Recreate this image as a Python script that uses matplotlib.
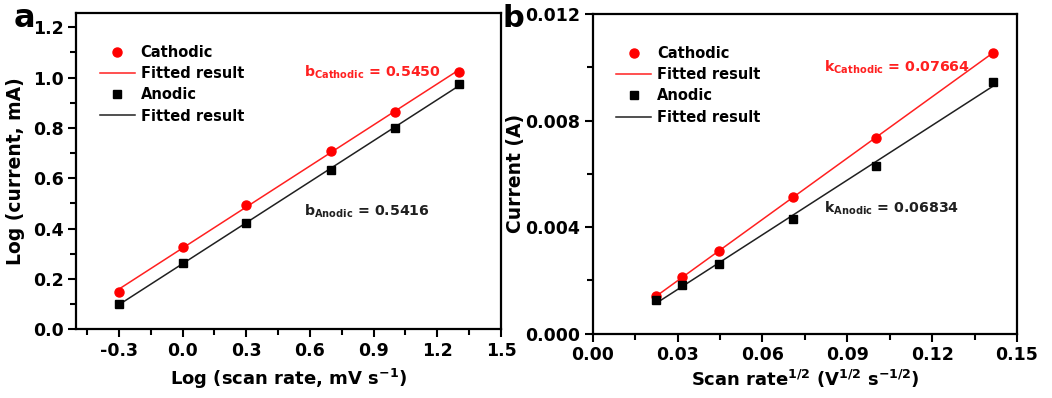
import numpy as np
import matplotlib
matplotlib.use('Agg')
import matplotlib.pyplot as plt
from matplotlib.ticker import MultipleLocator

# scan rates (mV/s) and peak currents
log_rate = [-0.301, 0.0, 0.301, 0.699, 1.0, 1.301]
log_cath = [0.148, 0.325, 0.495, 0.710, 0.865, 1.022]
log_anod = [0.100, 0.263, 0.420, 0.632, 0.800, 0.975]

sqrt_rate = [0.02236, 0.03162, 0.04472, 0.07071, 0.1, 0.14142]
i_cath = [0.00140, 0.00211, 0.00312, 0.00513, 0.00735, 0.01053]
i_anod = [0.00126, 0.00183, 0.00263, 0.00429, 0.00631, 0.00944]

b_labels = ['0.5450', '0.5416']
k_labels = ['0.07664', '0.06834']

plt.rcParams['font.family'] = ['DejaVu Sans']
plt.rcParams['font.weight'] = 'bold'
plt.rcParams['mathtext.fontset'] = 'custom'
plt.rcParams['mathtext.rm'] = 'DejaVu Sans:bold'
plt.rcParams['mathtext.bf'] = 'DejaVu Sans:bold'
plt.rcParams['mathtext.it'] = 'DejaVu Sans:bold'


def style_axes(ax):
    for s in ax.spines.values():
        s.set_linewidth(1.6)
    ax.tick_params(which='major', direction='out', length=6, width=1.5,
                   labelsize=12.5, pad=3)
    ax.tick_params(which='minor', direction='out', length=4, width=1.5)
    for lab in ax.get_xticklabels() + ax.get_yticklabels():
        lab.set_fontweight('bold')


def draw_panel(ax, x, yc, ya):
    pc = np.polyfit(x, yc, 1)
    pa = np.polyfit(x, ya, 1)
    xf = np.array([x[0], x[-1]])
    ax.plot(x, yc, 'o', color='#ff0000', ms=6.5, label='Cathodic', zorder=3)
    ax.plot(xf, np.polyval(pc, xf), '-', color='#ff2020', lw=1.1,
            label='Fitted result')
    ax.plot(x, ya, 's', color='black', ms=6, label='Anodic', zorder=3)
    ax.plot(xf, np.polyval(pa, xf), '-', color='#202020', lw=1.1,
            label='Fitted result')
    leg = ax.legend(loc='upper left', frameon=False, fontsize=10.5,
                    bbox_to_anchor=(0.024, 0.94), handlelength=2.4,
                    handletextpad=0.4, labelspacing=0.42)
    for t in leg.get_texts():
        t.set_fontweight('bold')


fig = plt.figure(figsize=(10.52, 3.98), dpi=100)
ax1 = fig.add_axes([0.0727, 0.173, 0.4035, 0.794])
ax2 = fig.add_axes([0.5635, 0.1615, 0.4032, 0.8035])

# panel a
draw_panel(ax1, log_rate, log_cath, log_anod)
ax1.set_xlim(-0.5, 1.5)
ax1.set_ylim(0, 1.256)
ax1.xaxis.set_minor_locator(MultipleLocator(0.15))
ax1.yaxis.set_major_locator(MultipleLocator(0.2))
ax1.yaxis.set_minor_locator(MultipleLocator(0.1))
ax1.set_xticks([-0.3, 0.0, 0.3, 0.6, 0.9, 1.2, 1.5])
ax1.set_xticklabels(['-0.3', '0.0', '0.3', '0.6', '0.9', '1.2', '1.5'])
ax1.set_xlabel(r'Log (scan rate, mV s$^{-1}$)', fontsize=13,
               fontweight='bold', labelpad=5)
ax1.set_ylabel('Log (current, mA)', fontsize=13.5, fontweight='bold',
               labelpad=6)
style_axes(ax1)
ax1.text(0.535, 0.80, r'b$_{\mathrm{Cathodic}}$ = ' + b_labels[0],
         transform=ax1.transAxes, color='#ff2020', fontsize=10.2,
         fontweight='bold')
ax1.text(0.535, 0.36, r'b$_{\mathrm{Anodic}}$ = ' + b_labels[1],
         transform=ax1.transAxes, color='#202020', fontsize=10.2,
         fontweight='bold')

# panel b
draw_panel(ax2, sqrt_rate, i_cath, i_anod)
ax2.set_xlim(0, 0.15)
ax2.set_ylim(0, 0.012)
ax2.xaxis.set_minor_locator(MultipleLocator(0.015))
ax2.yaxis.set_minor_locator(MultipleLocator(0.002))
ax2.set_xticks([0, 0.03, 0.06, 0.09, 0.12, 0.15])
ax2.set_xticklabels(['0.00', '0.03', '0.06', '0.09', '0.12', '0.15'])
ax2.set_yticks([0, 0.004, 0.008, 0.012])
ax2.set_yticklabels(['0.000', '0.004', '0.008', '0.012'])
ax2.set_xlabel(r'Scan rate$^{1/2}$ (V$^{1/2}$ s$^{-1/2}$)', fontsize=13,
               fontweight='bold', labelpad=3)
ax2.set_ylabel('Current (A)', fontsize=13.5, fontweight='bold', labelpad=0)
style_axes(ax2)
ax2.text(0.545, 0.82, r'k$_{\mathrm{Cathodic}}$ = ' + k_labels[0],
         transform=ax2.transAxes, color='#ff2020', fontsize=10.2,
         fontweight='bold')
ax2.text(0.545, 0.38, r'k$_{\mathrm{Anodic}}$ = ' + k_labels[1],
         transform=ax2.transAxes, color='#202020', fontsize=10.2,
         fontweight='bold')

fig.text(0.013, 0.932, 'a', fontsize=23, fontweight='bold')
fig.text(0.478, 0.932, 'b', fontsize=22, fontweight='bold')

fig.savefig('out.png', dpi=100)
